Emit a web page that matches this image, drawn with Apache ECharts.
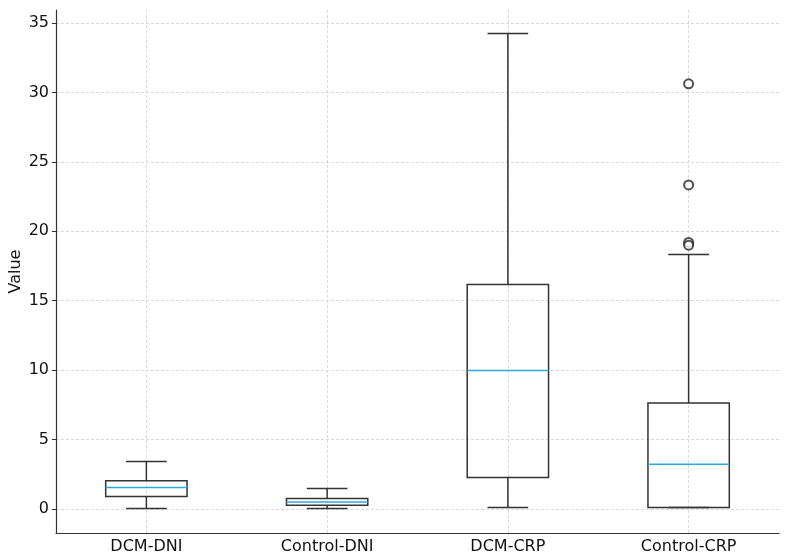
<!DOCTYPE html>
<html>
<head>
<meta charset="utf-8">
<script src="https://cdn.jsdelivr.net/npm/echarts@6/dist/echarts.min.js"></script>
<style>
  html, body { margin: 0; padding: 0; background: #fff; }
  #chart { width: 790px; height: 559px; }
</style>
</head>
<body>
<div id="chart"></div>
<script>
// box statistics
const categories = ['DCM-DNI', 'Control-DNI', 'DCM-CRP', 'Control-CRP'];
const lowWhisker = [0.04, 0.04, 0.11, 0.1];
const q1 = [0.9, 0.26, 2.27, 0.11];
const median = [1.55, 0.5, 9.98, 3.23];
const q3 = [2.03, 0.76, 16.16, 7.63];
const highWhisker = [3.42, 1.48, 34.24, 18.33];
// outliers as [category index, value]
const outliers = [[3, 30.62], [3, 23.34], [3, 19.2], [3, 19.0]];
const yTicks = [0, 5, 10, 15, 20, 25, 30, 35];

const boxData = categories.map((c, i) => [i, lowWhisker[i], q1[i], median[i], q3[i], highWhisker[i]]);

const lineColor = '#333';
const medianColor = '#2aaae2';
const gridColor = '#cfcfcf';

function renderBox(params, api) {
  const x = api.value(0);
  const pLow = api.coord([x, api.value(1)]);
  const pQ1 = api.coord([x, api.value(2)]);
  const pMed = api.coord([x, api.value(3)]);
  const pQ3 = api.coord([x, api.value(4)]);
  const pHigh = api.coord([x, api.value(5)]);
  const cx = pLow[0];
  const bw = api.size([1, 0])[0] * 0.45;
  const cw = bw / 2;
  const st = { stroke: lineColor, lineWidth: 1.5, fill: null };
  return {
    type: 'group',
    children: [
      { type: 'line', shape: { x1: cx, y1: pQ1[1], x2: cx, y2: pLow[1] }, style: st },
      { type: 'line', shape: { x1: cx, y1: pQ3[1], x2: cx, y2: pHigh[1] }, style: st },
      { type: 'line', shape: { x1: cx - cw / 2, y1: pLow[1], x2: cx + cw / 2, y2: pLow[1] }, style: st },
      { type: 'line', shape: { x1: cx - cw / 2, y1: pHigh[1], x2: cx + cw / 2, y2: pHigh[1] }, style: st },
      { type: 'rect', shape: { x: cx - bw / 2, y: pQ3[1], width: bw, height: pQ1[1] - pQ3[1] }, style: { stroke: lineColor, lineWidth: 1.5, fill: 'none' } },
      { type: 'line', shape: { x1: cx - bw / 2, y1: pMed[1], x2: cx + bw / 2, y2: pMed[1] }, style: { stroke: medianColor, lineWidth: 1.5 } }
    ]
  };
}

const chart = echarts.init(document.getElementById('chart'));
const gridLine = { show: true, lineStyle: { color: gridColor, type: [3, 2], width: 0.8 } };

chart.setOption({
  animation: false,
  textStyle: { fontFamily: 'DejaVu Sans' },
  grid: { left: 56, right: 11, top: 10, bottom: 26, containLabel: false, outerBoundsMode: 'none' },
  xAxis: {
    type: 'category',
    data: categories,
    boundaryGap: true,
    axisLine: { onZero: false, lineStyle: { color: '#333', width: 1.2 } },
    axisTick: { alignWithLabel: true, length: 4, lineStyle: { color: '#333' } },
    axisLabel: { color: '#111', fontSize: 16, margin: 6 },
    splitLine: { show: false }
  },
  yAxis: {
    type: 'value',
    min: -1.73,
    max: 35.94,
    interval: 5,
    name: 'Value',
    nameLocation: 'middle',
    nameGap: 32,
    nameMoveOverlap: false,
    nameTextStyle: { color: '#111', fontSize: 16 },
    axisLine: { show: true, lineStyle: { color: '#333', width: 1.2 } },
    axisTick: { show: true, length: 4, customValues: yTicks, lineStyle: { color: '#333' } },
    axisLabel: { color: '#111', fontSize: 16, margin: 7, customValues: yTicks },
    splitLine: Object.assign({ customValues: yTicks }, gridLine)
  },
  series: [
    {
      // vertical grid lines at category centres, kept under the boxes
      type: 'custom',
      renderItem: () => null,
      data: [],
      z: 1,
      markLine: {
        silent: true,
        z: 1,
        symbol: 'none',
        label: { show: false },
        lineStyle: { color: gridColor, type: [3, 2], width: 0.8 },
        data: categories.map(c => ({ xAxis: c }))
      }
    },
    {
      type: 'custom',
      renderItem: renderBox,
      data: boxData,
      encode: { x: 0, y: [1, 2, 3, 4, 5] },
      z: 3
    },
    {
      type: 'scatter',
      data: outliers,
      symbol: 'emptyCircle',
      symbolSize: 9,
      itemStyle: { color: '#222', borderWidth: 1.4 },
      z: 4
    }
  ]
});
</script>
</body>
</html>
